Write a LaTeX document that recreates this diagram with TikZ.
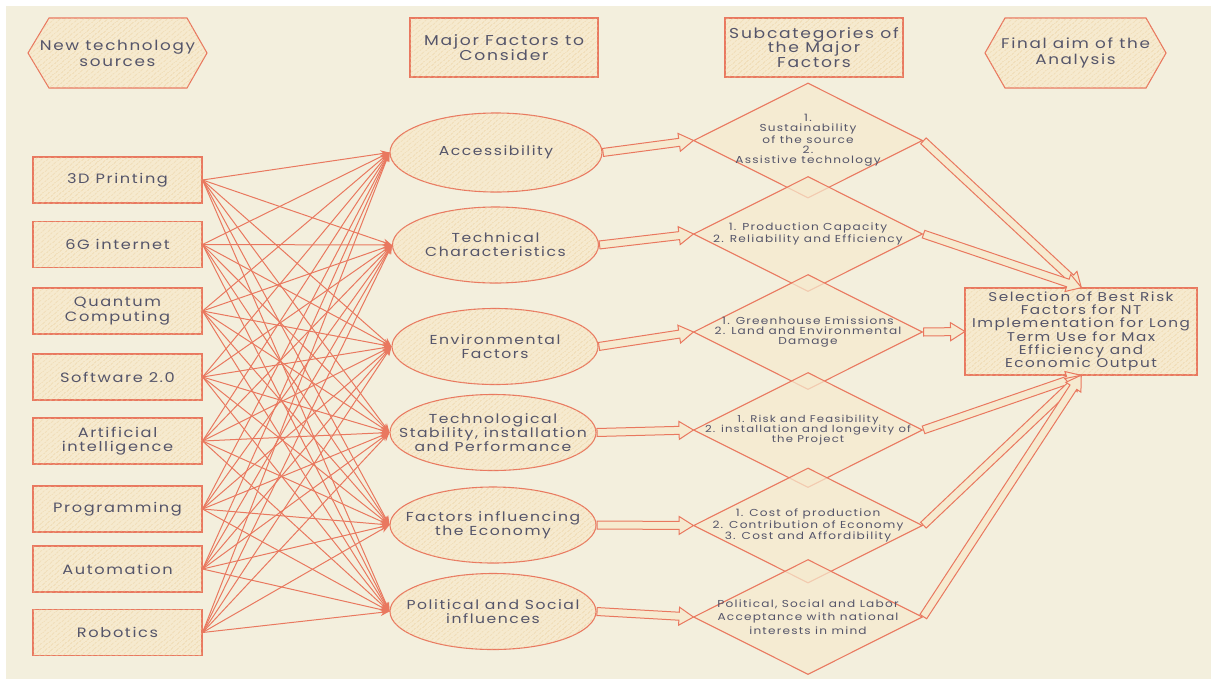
\documentclass[tikz,border=0pt]{standalone}
\usepackage{fontspec}
\setmainfont{Poppins}[LetterSpace=12, FakeStretch=1.2]
\usetikzlibrary{shapes.geometric,shapes.arrows,arrows.meta,calc,patterns.meta}
\definecolor{bgc}{HTML}{F3EFDD}
\definecolor{strk}{HTML}{E9785F}
\definecolor{fillc}{HTML}{F6EACF}
\definecolor{hatch}{HTML}{E9CD98}
\definecolor{txt}{HTML}{55556A}
\tikzset{
  hatched/.style={fill=fillc, postaction={pattern={Lines[angle=40,distance=4pt,line width=0.6pt]}, pattern color=hatch}},
  shapeline/.style={draw=strk, line width=1.1pt},
  hdrbox/.style={shapeline, hatched, rectangle, inner sep=0pt, align=center, text=txt, font=\fontsize{14.3}{14.8}\selectfont},
  hdrtext/.style={inner sep=0pt, align=center, text=txt, font=\fontsize{14}{16}\selectfont},
  srcbox/.style={shapeline, hatched, rectangle, minimum width=169pt, minimum height=46pt, inner sep=0pt, align=center, text=txt, font=\fontsize{13.5}{14.5}\selectfont},
  ellnode/.style={shapeline, hatched, ellipse, minimum width=206pt, minimum height=76pt, inner sep=0pt},
  elltext/.style={inner sep=0pt, align=center, text=txt, text opacity=1, font=\fontsize{13}{14.2}\selectfont},
  dianode/.style={draw=strk, line width=1.1pt, diamond, fill=fillc, fill opacity=0.72, minimum width=229pt, minimum height=115pt, inner sep=0pt},
  diatext/.style={inner sep=0pt, align=center, text=txt, text opacity=1, fill opacity=1, font=\fontsize{10.1}{10.3}\selectfont},
  finbox/.style={shapeline, hatched, rectangle, minimum width=232pt, minimum height=87pt, inner sep=0pt, align=center, text=txt, font=\fontsize{12.7}{13.1}\selectfont},
  thinarrow/.style={draw=strk, line width=1pt, -{Stealth[length=9pt,width=7pt]}},
  fat/.style={single arrow, draw=strk, line width=1pt, fill=fillc, inner xsep=0pt, inner ysep=3.5pt, single arrow head extend=5pt, single arrow tip angle=64, single arrow head indent=0pt}
}
\newcommand\fatarrow[3]{%
  \path let \p1=(#2), \p2=(#3), \n1={veclen(\x2-\x1,\y2-\y1)}, \n2={atan2(\y2-\y1,\x2-\x1)} in
    node[fat, minimum height=\n1, rotate=\n2, anchor=tail] (#1) at (\p1) {};}
\begin{document}
\begin{tikzpicture}[x=1pt,y=-1pt]
\useasboundingbox (0,0) rectangle (1217,686);
\fill[white] (0,0) rectangle (1217,686);
\fill[bgc] (6,6) rectangle (1211,679);

% headers
\filldraw[shapeline, hatched] (28,53) -- (49,18) -- (187,18) -- (207,53) -- (187,88) -- (49,88) -- cycle;
\node[hdrtext] (hA) at (117.5,53) {New technology\\sources};
\node[hdrbox, minimum width=188pt, minimum height=59pt] (hB) at (504,47.5) {Major Factors to\\Consider};
\node[hdrbox, minimum width=178pt, minimum height=59pt] (hC) at (814,47.5) {Subcategories of\\the Major\\Factors};
\filldraw[shapeline, hatched] (985,53) -- (1005,18) -- (1146,18) -- (1166,53) -- (1146,88) -- (1005,88) -- cycle;
\node[hdrtext] (hD) at (1075.5,53) {Final aim of the\\Analysis};

% source boxes
\node[srcbox] (s1) at (117.5,180) {3D Printing};
\node[srcbox] (s2) at (117.5,244.5) {6G internet};
\node[srcbox] (s3) at (117.5,311) {Quantum\\Computing};
\node[srcbox] (s4) at (117.5,377) {Software 2.0};
\node[srcbox] (s5) at (117.5,441) {Artificial\\intelligence};
\node[srcbox] (s6) at (117.5,509) {Programming};
\node[srcbox] (s7) at (117.5,569) {Automation};
\node[srcbox] (s8) at (117.5,632.5) {Robotics};

% factor ellipses
\node[ellnode, minimum width=212pt, minimum height=79pt, label={[elltext]center:{Accessibility}}] (e1) at (496,152.5) {};
\node[ellnode, label={[elltext]center:{Technical\\Characteristics}}] (e2) at (495.5,245) {};
\node[ellnode, label={[elltext]center:{Environmental\\Factors}}] (e3) at (495,346.5) {};
\node[ellnode, label={[elltext]center:{Technological\\Stability, installation\\and Performance}}] (e4) at (493,432.5) {};
\node[ellnode, label={[elltext]center:{Factors influencing\\the Economy}}] (e5) at (493,525) {};
\node[ellnode, label={[elltext]center:{Political and Social\\influences}}] (e6) at (493,611.5) {};

% connectors sources -> factors
\foreach \i in {1,...,8}
  \foreach \j in {1,...,6}
    \draw[thinarrow] (s\i.east) -- (e\j.west);

% subcategory diamonds
\node[dianode, label={[diatext]center:{1.\\Sustainability\\of the source\\2.\\Assistive technology}}] (d1) at (808,140.5) {};
\node[dianode, label={[diatext]center:{1. Production Capacity\\2. Reliability and Efficiency}}] (d2) at (808,234) {};
\node[dianode, label={[diatext]center:{1. Greenhouse Emissions\\2. Land and Environmental\\Damage}}] (d3) at (808,332) {};
\node[dianode, label={[diatext, font=\fontsize{9.7}{10.4}\selectfont]center:{1. Risk and Feasibility\\2. installation and longevity of\\the Project}}] (d4) at (808,430) {};
\node[dianode, label={[diatext]center:{1. Cost of production\\2. Contribution of Economy\\3. Cost and Affordibility}}] (d5) at (808,525.5) {};
\node[dianode, label={[diatext, font=\fontsize{10.1}{13.5}\selectfont]center:{Political, Social and Labor\\Acceptance with national\\interests in mind}}] (d6) at (808,617) {};

% final box
\node[finbox] (fin) at (1081,331.5) {Selection of Best Risk\\Factors for NT\\Implementation for Long\\Term Use for Max\\Efficiency and\\Economic Output};

% block arrows factors -> subcategories
\fatarrow{a1}{e1.east}{d1.west}
\fatarrow{a2}{e2.east}{d2.west}
\fatarrow{a3}{e3.east}{d3.west}
\fatarrow{a4}{e4.east}{d4.west}
\fatarrow{a5}{e5.east}{d5.west}
\fatarrow{a6}{e6.east}{d6.west}

% block arrows subcategories -> final aim
\fatarrow{b1}{d1.east}{fin.north}
\fatarrow{b2}{d2.east}{fin.north}
\fatarrow{b3}{d3.east}{fin.west}
\fatarrow{b4}{d4.east}{fin.south}
\fatarrow{b5}{d5.east}{fin.south}
\fatarrow{b6}{d6.east}{fin.south}
\end{tikzpicture}
\end{document}
